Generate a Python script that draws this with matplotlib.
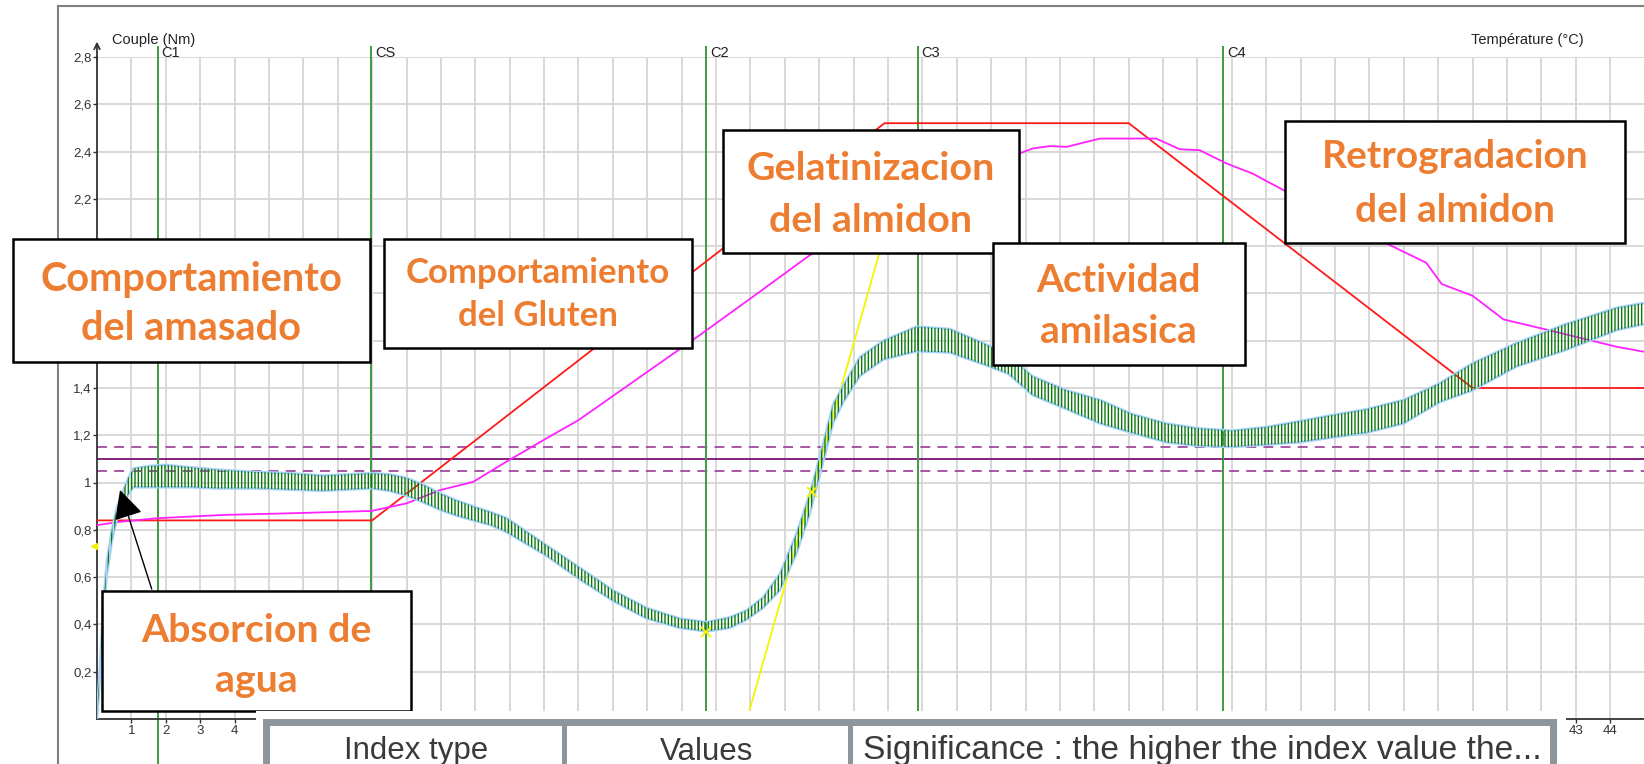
import matplotlib.pyplot as plt
from matplotlib.patches import Rectangle, FancyArrowPatch

W, H = 1644, 764

# ── Data ───────────────────────────────────────────────────────────────────
# torque band (Nm): lower / upper edge of the oscillating trace
torque_t = [0.00, 0.09, 0.18, 0.28, 0.43, 0.57, 0.77, 0.91, 1.06, 1.50, 2.00,
            2.70, 3.50, 4.64, 5.60, 6.57, 7.30, 7.98, 8.50, 9.00, 9.50, 9.97,
            10.45, 10.93, 11.45, 11.91, 13.07, 14.04, 15.00, 15.98, 16.95,
            17.72, 18.40, 18.89, 19.37, 19.86, 20.34, 20.73, 21.07, 21.40,
            21.70, 22.18, 22.86, 23.83, 24.80, 25.77, 26.50, 27.20, 28.20,
            29.16, 30.10, 31.10, 32.00, 33.00, 34.00, 34.97, 35.90, 36.90,
            38.00, 39.04, 40.00, 41.27, 42.70, 44.20, 45.00]
torque_lo = [0.00, 0.18, 0.42, 0.60, 0.75, 0.84, 0.90, 0.95, 0.98, 0.98, 0.98,
             0.98, 0.975, 0.975, 0.97, 0.965, 0.97, 0.975, 0.965, 0.945, 0.915,
             0.885, 0.86, 0.84, 0.82, 0.79, 0.69, 0.59, 0.50, 0.425, 0.385,
             0.37, 0.385, 0.42, 0.47, 0.545, 0.70, 0.87, 1.06, 1.25,
             1.34, 1.45, 1.52, 1.555, 1.55, 1.50, 1.46, 1.37, 1.31,
             1.25, 1.21, 1.17, 1.155, 1.15, 1.16, 1.17, 1.19, 1.21,
             1.25, 1.34, 1.39, 1.49, 1.56, 1.645, 1.67]
torque_hi = [0.02, 0.24, 0.48, 0.66, 0.80, 0.89, 0.97, 1.02, 1.06, 1.07, 1.075,
             1.065, 1.055, 1.045, 1.04, 1.03, 1.035, 1.04, 1.035, 1.02, 0.99,
             0.955, 0.925, 0.90, 0.875, 0.85, 0.735, 0.64, 0.545, 0.47, 0.425,
             0.41, 0.43, 0.46, 0.515, 0.615, 0.785, 0.955, 1.14, 1.33,
             1.41, 1.53, 1.60, 1.66, 1.65, 1.59, 1.54, 1.45, 1.39,
             1.35, 1.29, 1.25, 1.23, 1.22, 1.235, 1.26, 1.285, 1.31,
             1.35, 1.42, 1.505, 1.59, 1.67, 1.74, 1.76]

# temperature set-point (red) and dough temperature (magenta), torque units
temp_set_t = [0.0, 8.0, 22.9, 30.0, 40.0, 45.0]
temp_set = [0.84, 0.84, 2.52, 2.52, 1.40, 1.40]
temp_dough_t = [0.0, 0.67, 1.73, 3.67, 5.60, 7.98, 9.00, 9.97, 10.94, 11.90,
                13.07, 14.00, 17.53, 19.27, 20.73, 26.83, 27.20, 27.70, 28.20,
                29.16, 30.13, 30.80, 31.48, 32.06, 32.84, 33.60, 34.50, 37.60,
                38.65, 39.10, 40.00, 40.90, 42.20, 44.20, 45.00]
temp_dough = [0.82, 0.834, 0.849, 0.863, 0.87, 0.88, 0.912, 0.968, 1.003, 1.088,
              1.187, 1.264, 1.624, 1.807, 1.962, 2.392, 2.413, 2.423, 2.42,
              2.455, 2.455, 2.455, 2.41, 2.406, 2.35, 2.307, 2.237, 2.004,
              1.93, 1.84, 1.79, 1.69, 1.645, 1.574, 1.553]

# C3 slope tangent (yellow)
tangent_t = [18.98, 23.0]
tangent_y = [0.04, 2.10]

cursor_names = ["C1", "CS", "C2", "C3", "C4"]
cursor_t = [1.76, 7.97, 17.72, 23.86, 32.74]

target, tol = 1.10, 0.05

y_ticks = [0.2, 0.4, 0.6, 0.8, 1.0, 1.2, 1.4, 1.6, 1.8, 2.0, 2.2, 2.4, 2.6, 2.8]
y_labels = ["0,2", "0,4", "0,6", "0,8", "1", "1,2", "1,4", "1,6", "1,8", "2",
            "2,2", "2,4", "2,6", "2,8"]
x_ticks = list(range(1, 45))

table_headers = ["Index type", "Values",
                 "Significance : the higher the index value the..."]

# ── Figure ─────────────────────────────────────────────────────────────────
plt.rcParams['font.family'] = ['Liberation Sans', 'DejaVu Sans']
plt.rcParams['hatch.linewidth'] = 1.0

fig = plt.figure(figsize=(W / 100, H / 100), dpi=100)


def px(x, y):
    """pixel (from top-left) -> figure fraction"""
    return x / W, 1 - y / H


X0, Y0, PPM, PPU = 97, 719, 34.39, 236.43     # axis origin, px/min, px/Nm
ax = fig.add_axes([X0 / W, (H - Y0) / H, 45 * PPM / W, 2.8 * PPU / H])
ax.set_xlim(0, 45)
ax.set_ylim(0, 2.8)

ax.set_xticks(x_ticks)
ax.set_xticklabels([str(v) for v in x_ticks])
ax.set_yticks(y_ticks)
ax.set_yticklabels(y_labels)
ax.tick_params(axis='both', labelsize=9.5, colors='#333333', length=3,
               width=1, pad=1)
ax.grid(True, color='#d6d6d6', lw=1.3)
ax.set_axisbelow(True)
for s in ('top', 'right'):
    ax.spines[s].set_visible(False)
for s in ('left', 'bottom'):
    ax.spines[s].set_color('#333333')
    ax.spines[s].set_linewidth(1.3)
ax.annotate('', xy=(0, 2.865), xytext=(0, 2.79), annotation_clip=False,
            arrowprops=dict(arrowstyle='->', lw=1.3, color='#333333',
                            shrinkA=0, shrinkB=0))

# target torque band
ax.axhline(target, color='#7a107a', lw=1.3)
for v in (target - tol, target + tol):
    ax.axhline(v, color='#a04aa0', lw=1.3, dashes=(5.5, 4))

# cursors
y_lo = (Y0 - H) / PPU
y_hi = (Y0 - 46.7) / PPU
for name, t in zip(cursor_names, cursor_t):
    ax.plot([t, t], [y_lo, y_hi], color='#3f9a3f', lw=1.4, clip_on=False,
            zorder=2)
    ax.annotate(name, (t, 2.8), xytext=(4, 0), textcoords='offset pixels',
                va='baseline', ha='left', fontsize=10.5, color='#222222',
                annotation_clip=False)

ax.plot(temp_set_t, temp_set, color='#ff1a1a', lw=1.3, zorder=3)
ax.plot(temp_dough_t, temp_dough, color='#ff22ff', lw=1.3, zorder=3)
ax.plot(tangent_t, tangent_y, color='#f5f500', lw=1.3, zorder=3)

# torque: pale-blue smoothed edges + dense green oscillation
ax.plot(torque_t, torque_lo, color='#a9d3fb', lw=1.8, zorder=4)
ax.plot(torque_t, torque_hi, color='#a9d3fb', lw=1.8, zorder=4)
ax.fill_between(torque_t, torque_lo, torque_hi, facecolor='none',
                edgecolor='#0b7a0b', hatch='|||||', lw=0, zorder=5)
ax.plot([17.72, 20.78], [0.37, 0.96], ls='none', marker='x', ms=7, mew=1.3,
        color='#f5f000', zorder=6)
ax.plot([-0.08], [0.733], ls='none', marker='<', ms=5, color='#f5f000',
        clip_on=False, zorder=6)

fig.text(*px(112, 44), "Couple (Nm)", fontsize=10.5, color='#222222',
         va='baseline')
fig.text(*px(1471, 44), "Température (°C)", fontsize=10.5, color='#222222',
         va='baseline')

# outer window frame
fig.add_artist(plt.Line2D([58 / W, 58 / W], [0, 1 - 6 / H],
                          transform=fig.transFigure, color='#808080', lw=1.5))
fig.add_artist(plt.Line2D([58 / W, 1], [1 - 6 / H, 1 - 6 / H],
                          transform=fig.transFigure, color='#808080', lw=1.5))


# ── Annotation boxes ───────────────────────────────────────────────────────
def rect(x0, y0, x1, y1, z, fc='white', ec='black', lw=1.8):
    fig.add_artist(Rectangle(px(x0, y1), (x1 - x0) / W, (y1 - y0) / H,
                             transform=fig.transFigure, facecolor=fc,
                             edgecolor=ec, lw=lw, zorder=z))


def box_label(lines, baselines, width_px, box, z):
    x0, y0, x1, y1 = box
    rect(x0, y0, x1, y1, z)
    cx = (x0 + x1) / 2
    texts = [fig.text(*px(cx, b), s, ha='center', va='baseline',
                      fontsize=30, fontweight='bold', family='Lato',
                      color='#ED7D31', zorder=z + 0.5)
             for s, b in zip(lines, baselines)]
    r = fig.canvas.get_renderer()
    w = max(t.get_window_extent(r).width for t in texts)
    for t in texts:
        t.set_fontsize(30 * width_px / w)


box_label(["Comportamiento", "del amasado"], [291, 340], 302,
          (12.6, 238.5, 370, 362), 10)
box_label(["Comportamiento", "del Gluten"], [283, 326], 264,
          (384, 239, 692, 348), 11)
box_label(["Gelatinizacion", "del almidon"], [180, 231.7], 248.4,
          (722.7, 130, 1019, 252.7), 12)
box_label(["Actividad", "amilasica"], [291.7, 343.3], 164,
          (992.7, 242.7, 1244.5, 365), 13)
box_label(["Retrogradacion", "del almidon"], [168.3, 221.7], 266,
          (1285, 121, 1625, 242.7), 14)
box_label(["Absorcion de", "agua"], [641.7, 691.7], 230,
          (102, 591, 411, 711), 15)

fig.add_artist(FancyArrowPatch(px(151.7, 589), px(120, 490),
                               transform=fig.transFigure,
                               arrowstyle='-|>,head_length=0.9,head_width=0.45',
                               mutation_scale=20, lw=1, color='black',
                               shrinkA=0, shrinkB=0, zorder=16))

# ── Pasted index table at the bottom ───────────────────────────────────────
rect(256, 711, 1566, 770, 20, ec='none', lw=0)
rect(263, 719, 1557, 790, 21, fc='#8d969c', ec='none', lw=0)
rect(270, 726, 1550, 790, 22, ec='none', lw=0)
for xd in (562, 848):
    rect(xd, 726, xd + 5, 790, 23, fc='#8d969c', ec='none', lw=0)
hdr_size = [22.5, 22.5, 24.2]
for s, x, ha, fs in zip(table_headers, [416, 707, 863],
                        ['center', 'center', 'left'], hdr_size):
    fig.text(*px(x, 759.5), s, ha=ha, va='baseline', fontsize=fs,
             color='#3a3a3a', zorder=24)

fig.savefig("out.png", dpi=100)
